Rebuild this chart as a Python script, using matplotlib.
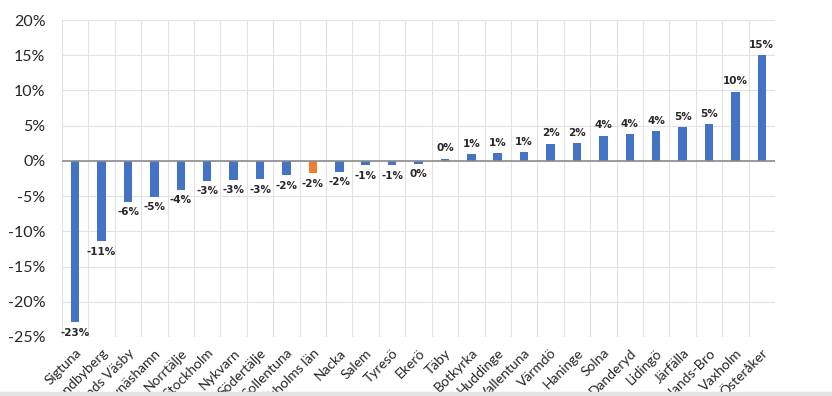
import numpy as np
import matplotlib.pyplot as plt
from matplotlib.patches import Rectangle
from matplotlib.ticker import FuncFormatter, MultipleLocator

kommuner = ['Sigtuna', 'Sundbyberg', 'Upplands Väsby', 'Nynäshamn', 'Norrtälje',
            'Stockholm', 'Nykvarn', 'Södertälje', 'Sollentuna', 'Stockholms län',
            'Nacka', 'Salem', 'Tyresö', 'Ekerö', 'Täby', 'Botkyrka', 'Huddinge',
            'Vallentuna', 'Värmdö', 'Haninge', 'Solna', 'Danderyd', 'Lidingö',
            'Järfälla', 'Upplands-Bro', 'Vaxholm', 'Österåker']
forandring = [-22.9, -11.4, -5.8, -5.1, -4.1, -2.8, -2.7, -2.6, -2.0, -1.75,
              -1.55, -0.6, -0.6, -0.4, 0.3, 0.95, 1.1, 1.2, 2.4, 2.48,
              3.6, 3.8, 4.2, 4.8, 5.2, 9.8, 15.0]
markerad = 'Stockholms län'

blue = '#4472C4'
orange = '#ED7D31'

fig = plt.figure(figsize=(8.32, 3.96), dpi=100)
ax = fig.add_axes([62/832, 59/396, 713/832, 317/396])

x = np.arange(len(kommuner))
colors = [orange if k == markerad else blue for k in kommuner]
ax.bar(x, forandring, width=0.32, color=colors, zorder=3)

# data labels
for xi, v in zip(x, forandring):
    txt = '%d%%' % int(round(v))
    if v >= 0:
        ax.annotate(txt, (xi, v), xytext=(0, 4), textcoords='offset points',
                    ha='center', va='bottom', fontsize=7.5, fontweight='bold',
                    family='DejaVu Sans', color='#262626')
    else:
        ax.annotate(txt, (xi, v), xytext=(0, -4), textcoords='offset points',
                    ha='center', va='top', fontsize=7.5, fontweight='bold',
                    family='DejaVu Sans', color='#262626')

ax.set_xlim(-0.5, len(kommuner) - 0.5)
ax.set_ylim(-25, 20)
ax.yaxis.set_major_locator(MultipleLocator(5))
ax.yaxis.set_major_formatter(FuncFormatter(lambda v, p: '%d%%' % v))

ax.set_xticks(x)
ax.set_xticklabels(kommuner, rotation=45, ha='right', rotation_mode='anchor',
                   fontsize=10, family='Lato', color='#262626')
ax.set_xticks(np.arange(-0.5, len(kommuner)), minor=True)
for lab in ax.get_yticklabels():
    lab.set_family('Lato')
    lab.set_fontsize(11.5)
    lab.set_color('#262626')

ax.tick_params(axis='both', which='both', length=0)
ax.tick_params(axis='y', pad=12)
ax.tick_params(axis='x', pad=7)
ax.grid(axis='y', which='major', color='#e2e2e2', lw=0.8, zorder=0)
ax.grid(axis='x', which='minor', color='#e2e2e2', lw=0.8, zorder=0)
ax.axhline(0, color='#8c8c8c', lw=1.2, zorder=4)
for s in ax.spines.values():
    s.set_visible(False)

# grey strip along the bottom edge of the screenshot
fig.add_artist(Rectangle((0, 0), 1, 4/396, transform=fig.transFigure,
                         color='#e4e4e4', zorder=10))

fig.savefig('out.png', dpi=100)
